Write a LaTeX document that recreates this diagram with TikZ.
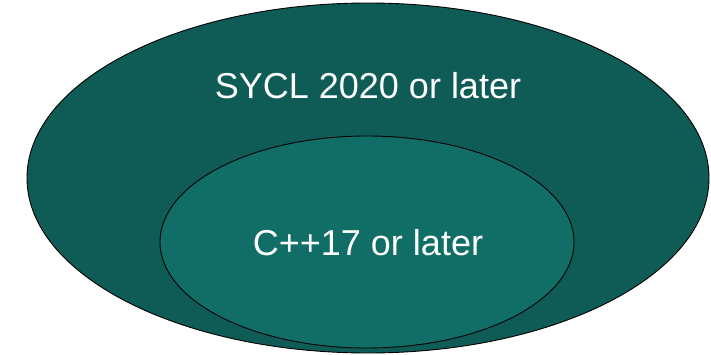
\documentclass[tikz,border=0pt]{standalone}
\usepackage{fontspec}
\setmainfont{Liberation Sans}
\usepackage{xcolor}
\usepackage{tikz}
\usetikzlibrary{positioning, shapes.geometric}
\definecolor{outer teal}{HTML}{0E5C55}
\definecolor{inner teal}{HTML}{116E66}
\tikzset{
set blob/.style = { ellipse, draw = black, line width = 0.9pt, inner sep = 0pt },
set label/.style = { text = white, font = \fontsize{36}{43}\selectfont },
}

\begin{document}
\begin{tikzpicture}[x = 1pt, y = 1pt]
      \useasboundingbox (0, 0) rectangle (711, 354);
      % outer set
      \node[set blob, fill = outer teal, minimum width = 682pt, minimum height = 350pt] (sycl) at (368, 176) {};
      \node[set label] (sycl text) at (368, 268) {SYCL 2020 or later};
      % inner set
      \node[set blob, fill = inner teal, minimum width = 414pt, minimum height = 212pt] (cpp) at (367, 112) {};
      \node[set label] (cpp text) at (368, 111) {C++17 or later};
    \end{tikzpicture}
\end{document}
